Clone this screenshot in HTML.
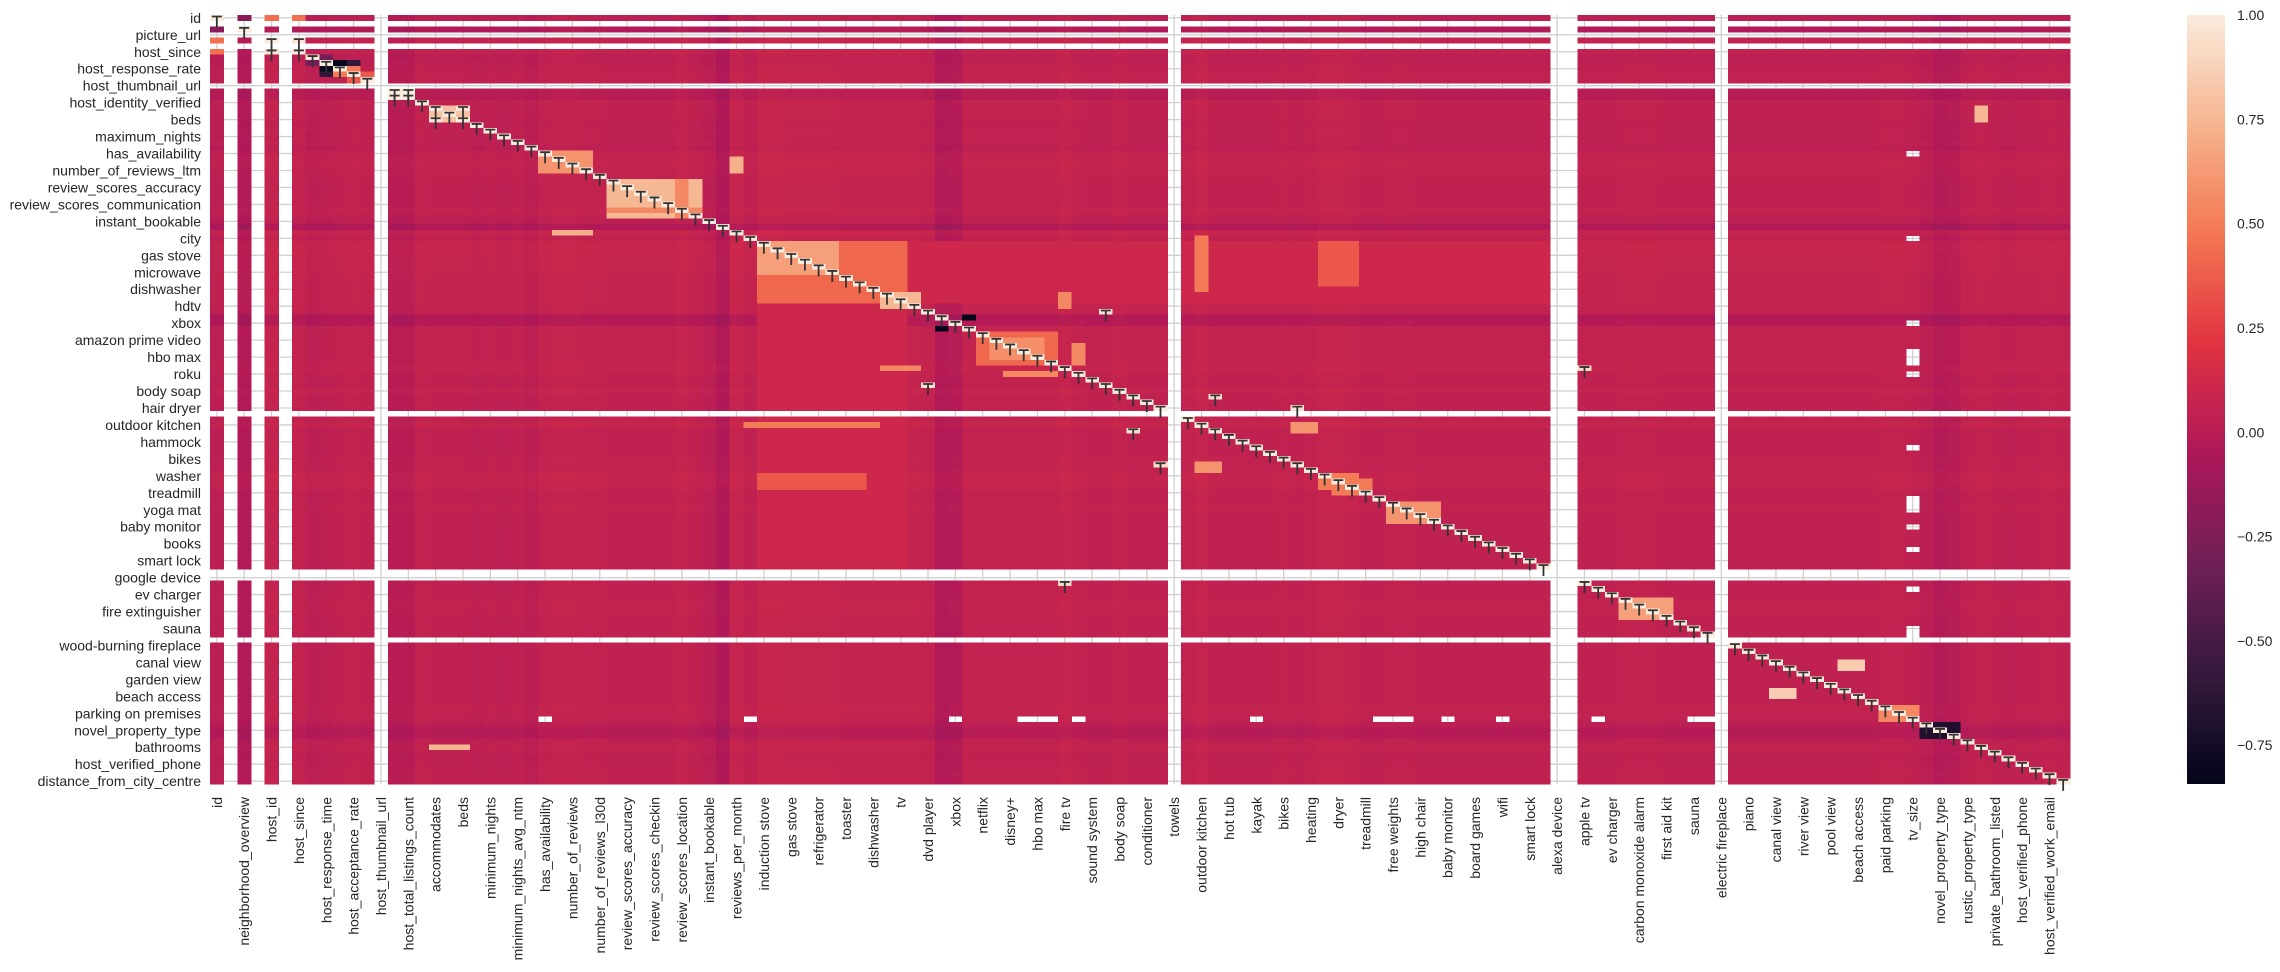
<!DOCTYPE html>
<html><head><meta charset="utf-8">
<style>
html,body{margin:0;padding:0;background:#fff;}
body{width:2280px;height:967px;overflow:hidden;font-family:"Liberation Sans",Arial,sans-serif;}
svg text{font-family:"Liberation Sans",Arial,sans-serif;fill:#262626;}
</style></head>
<body>
<svg id="chart" width="2280" height="967" xmlns="http://www.w3.org/2000/svg">
  <defs><linearGradient id="cbgrad" x1="0" y1="1" x2="0" y2="0"></linearGradient></defs>
  <g id="grid"></g>
  <g id="cells" shape-rendering="crispEdges"></g>
  <g id="marks"></g>
  <g id="ylab"></g>
  <g id="xlab"></g>
  <g id="cbar"></g>
</svg>
<script>
const xLabels = ["id","neighborhood_overview","host_id","host_since","host_response_time","host_acceptance_rate","host_thumbnail_url","host_total_listings_count","accommodates","beds","minimum_nights","minimum_nights_avg_ntm","has_availability","number_of_reviews","number_of_reviews_l30d","review_scores_accuracy","review_scores_checkin","review_scores_location","instant_bookable","reviews_per_month","induction stove","gas stove","refrigerator","toaster","dishwasher","tv","dvd player","xbox","netflix","disney+","hbo max","fire tv","sound system","body soap","conditioner","towels","outdoor kitchen","hot tub","kayak","bikes","heating","dryer","treadmill","free weights","high chair","baby monitor","board games","wifi","smart lock","alexa device","apple tv","ev charger","carbon monoxide alarm","first aid kit","sauna","electric fireplace","piano","canal view","river view","pool view","beach access","paid parking","tv_size","novel_property_type","rustic_property_type","private_bathroom_listed","host_verified_phone","host_verified_work_email"];
const yLabels = ["id","picture_url","host_since","host_response_rate","host_thumbnail_url","host_identity_verified","beds","maximum_nights","has_availability","number_of_reviews_ltm","review_scores_accuracy","review_scores_communication","instant_bookable","city","gas stove","microwave","dishwasher","hdtv","xbox","amazon prime video","hbo max","roku","body soap","hair dryer","outdoor kitchen","hammock","bikes","washer","treadmill","yoga mat","baby monitor","books","smart lock","google device","ev charger","fire extinguisher","sauna","wood-burning fireplace","canal view","garden view","beach access","parking on premises","novel_property_type","bathrooms","host_verified_phone","distance_from_city_centre"];
const cbTicks = [1.0,0.75,0.5,0.25,0.0,-0.25,-0.5,-0.75];
const nVars = 136;
const nanVars = [1,3,5,12,70,98,99,110];
const nanRow = [124,124,124,124,124,124,124,124,124,124,124,124,124,124,124,124];
const nanCol = [24,39,54,59,60,61,63,76,85,86,87,90,94,101,108,109];
const bias = [
0.00,0,-0.05,0,0.04,0,0.03,0.00,0.01,0.02,
0.03,0.02,0,-0.02,-0.02,0.03,0.02,0.02,0.02,0.01,
0.02,0.01,0.02,0.00,0.03,0.04,0.04,0.03,0.03,0.02,
0.02,0.02,0.02,0.02,0.04,0.02,0.00,-0.06,0.05,0.02,
0.06,0.06,0.05,0.05,0.05,0.05,0.04,0.04,0.04,0.04,
0.04,0.04,0.03,-0.05,-0.04,0.03,0.03,0.03,0.03,0.03,
0.03,0.03,0.05,0.03,0.02,0.02,0.04,0.02,0.02,0.02,
0,0.03,0.05,0.02,0.02,0.02,0.02,0.02,0.03,0.02,
0.03,0.05,0.05,0.04,0.02,0.02,0.03,0.03,0.02,0.02,
0.02,0.02,0.02,0.02,0.02,0.02,0.02,0.02,0,0,
0.02,0.02,0.02,0.03,0.03,0.03,0.02,0.02,0.02,0.02,
0,0.02,0.02,0.02,0.02,0.02,0.02,0.02,0.02,0.02,
0.02,0.02,0.03,0.03,0.02,0.00,-0.04,-0.03,0.02,0.03,
0.02,0.01,0.02,0.02,0.03,0.02];
const blockR0 = [0,0,4,0,8,8,9,10,7,13,16,16,24,29,29,38,40,40,40,39,40,49,53,56,57,62,63,52,67,69,79,82,86,62,103,114,122,125,16];
const blockR1 = [0,0,4,0,8,8,9,10,7,13,18,16,27,35,35,38,50,50,45,48,47,51,53,61,60,62,63,52,67,69,80,83,88,62,106,115,124,127,18];
const blockC0 = [4,6,6,2,9,10,10,11,8,14,16,18,24,29,34,25,50,40,40,72,81,49,55,56,57,49,58,65,73,79,72,81,86,100,103,119,122,125,129];
const blockC1 = [4,6,6,2,9,10,10,11,8,14,18,18,27,35,34,27,97,50,45,72,83,51,55,61,60,51,61,65,73,79,73,84,89,100,106,120,124,127,129];
const blockV  = [0.45,0.45,0.97,-0.2,-0.82,-0.6,0.5,0.35,-0.3,1.0,0.8,0.97,0.6,0.75,0.55,0.72,0.11,0.42,0.65,0.5,0.35,0.75,-0.85,0.42,0.58,0.55,0.55,0.95,0.95,0.95,0.6,0.5,0.6,0.93,0.65,0.85,0.55,-0.7,0.75];

const VMIN=-0.843, VMAX=1.0;
const X0=210, Y0=15, W=1860, H=769;
const cw=W/nVars, ch=H/nVars;
const xPos = i => X0 + i*cw;
const yPos = i => Y0 + i*ch;
const stops=[[3,5,26],[53,25,62],[112,31,87],[173,23,89],[225,51,66],[243,118,81],[246,180,143],[250,235,221]];
function rocket(v){
  let t=(v-VMIN)/(VMAX-VMIN); t=Math.max(0,Math.min(1,t));
  const p=t*(stops.length-1), k=Math.min(stops.length-2,Math.floor(p)), f=p-k;
  const a=stops[k], b=stops[k+1];
  return 'rgb('+a.map((c,i)=>Math.round(c+(b[i]-c)*f)).join(',')+')';
}
const NS='http://www.w3.org/2000/svg';
function mk(tag,attrs,parent){const e=document.createElementNS(NS,tag);for(const k in attrs)e.setAttribute(k,attrs[k]);parent.appendChild(e);return e;}

const M=[];
for(let i=0;i<nVars;i++){M.push([]);for(let j=0;j<nVars;j++)M[i].push(bias[i]+bias[j]);}
for(let b=0;b<blockV.length;b++){
  for(let r=blockR0[b];r<=blockR1[b];r++)for(let c=blockC0[b];c<=blockC1[b];c++){M[r][c]=blockV[b];M[c][r]=blockV[b];}
}
for(let i=0;i<nVars;i++)M[i][i]=1;
for(const k of nanVars)for(let j=0;j<nVars;j++){M[k][j]=null;M[j][k]=null;}
for(let q=0;q<nanRow.length;q++){M[nanRow[q]][nanCol[q]]=null;M[nanCol[q]][nanRow[q]]=null;}

const grid=document.getElementById('grid');
xLabels.forEach((l,k)=>{const x=xPos(2*k+0.5);
  const ln=mk('line',{x1:x,x2:x,y1:Y0,y2:Y0+H,stroke:'#d0d0d0','stroke-width':1.3},grid);
  });
yLabels.forEach((l,k)=>{const y=yPos(3*k+0.5);
  const ln=mk('line',{x1:X0,x2:X0+W,y1:y,y2:y,stroke:'#d0d0d0','stroke-width':1.3},grid);
  });

const cells=document.getElementById('cells');
const marks=document.getElementById('marks');
for(let i=0;i<nVars;i++)for(let j=0;j<nVars;j++){
  const v=M[i][j]; if(v===null)continue;
  const r=mk('rect',{x:xPos(j).toFixed(2),y:yPos(i).toFixed(2),width:(cw+0.4).toFixed(2),height:(ch+0.4).toFixed(2),fill:rocket(v)},cells);
  
  
  if(v>=0.93){
    const cx=xPos(j+0.5), yt=yPos(i)+1.5;
    const t=mk('path',{d:`M${cx-5},${yt}H${cx+5}M${cx},${yt}V${yt+11}`,stroke:'#333',fill:'none','stroke-width':1.8},marks);
    
    
  }
}

const ylab=document.getElementById('ylab');
yLabels.forEach((l,k)=>{
  const t=mk('text',{x:201,y:yPos(3*k+0.5)+5,'text-anchor':'end','font-size':14},ylab);
  t.textContent=l;
  
  
});
const xlab=document.getElementById('xlab');
xLabels.forEach((l,k)=>{
  const x=xPos(2*k+0.5)+5, y=797;
  const t=mk('text',{x:x,y:y,'text-anchor':'end','font-size':14,transform:`rotate(-90 ${x} ${y})`},xlab);
  t.textContent=l;
  
  
});

const grad=document.getElementById('cbgrad');
for(let s=0;s<=40;s++){const v=VMIN+(VMAX-VMIN)*s/40;mk('stop',{offset:(s/40),'stop-color':rocket(v)},grad);}
const cbar=document.getElementById('cbar');
const cbx=2187, cbw=38;
const cbRect=mk('rect',{x:cbx,y:Y0,width:cbw,height:H,fill:'url(#cbgrad)'},cbar);


const cbY=v=>Y0+(VMAX-v)/(VMAX-VMIN)*H;
cbTicks.forEach(v=>{
  const t=mk('text',{x:2237,y:cbY(v)+5,'font-size':14},cbar);
  t.textContent=(v<0?'\u2212':'')+Math.abs(v).toFixed(2);
  
  
});
</script>
</body></html>
